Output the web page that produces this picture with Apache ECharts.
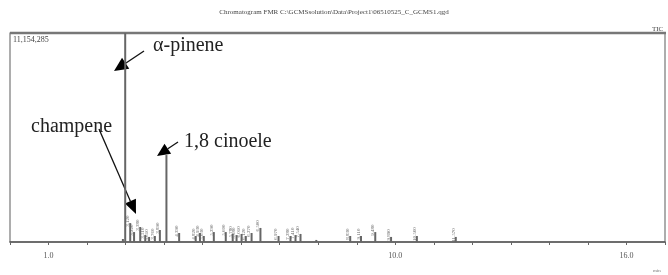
<!DOCTYPE html>
<html>
<head>
<meta charset="utf-8">
<script src="https://cdn.jsdelivr.net/npm/echarts@6/dist/echarts.min.js"></script>
<style>html,body{margin:0;padding:0;background:#fff;}#c{width:668px;height:275px;}</style>
</head>
<body>
<div id="c"></div>
<script>
// Retention times (min) of the peaks
const peakTimes = [2.93, 2.99, 3.12, 3.22, 3.38, 3.51, 3.61, 3.76, 3.89, 4.06, 4.39, 4.82, 4.93, 5.03, 5.29, 5.60, 5.78, 5.88, 6.01, 6.12, 6.27, 6.50, 6.97, 7.28, 7.41, 7.54, 7.95, 8.83, 9.11, 9.48, 9.89, 10.56, 11.57];
// Peak intensities (TIC counts)
const peakHeights = [160000, 11154285, 1010000, 530000, 800000, 370000, 270000, 320000, 640000, 4640000, 480000, 320000, 480000, 320000, 530000, 530000, 430000, 370000, 430000, 320000, 480000, 750000, 320000, 320000, 370000, 430000, 110000, 320000, 320000, 530000, 270000, 320000, 270000];
const xTickLabels = [1.0, 10.0, 16.0];
const yMaxLabel = '11,154,285';
const yMax = 11154285;
const titleText = 'Chromatogram FMR C:\\GCMSsolution\\Data\\Project1\\06510525_C_GCMS1.qgd';
const annotations = ['α-pinene', 'champene', '1,8 cinoele'];

const chart = echarts.init(document.getElementById('c'), null, {renderer: 'canvas'});

const barData = peakTimes.map((t, i) => {
  const h = peakHeights[i];
  const small = h < 2000000 && h > 200000;
  return {
    value: [t, h],
    label: {
      show: small,
      position: 'top',
      rotate: 90,
      distance: 2,
      fontSize: 5,
      color: '#666',
      fontFamily: 'Liberation Serif',
      formatter: () => t.toFixed(3)
    }
  };
});

function arrow(x1, y1, x2, y2, hl, hw) {
  const dx = x2 - x1, dy = y2 - y1;
  const L = Math.sqrt(dx * dx + dy * dy);
  const ux = dx / L, uy = dy / L;
  const bx = x2 - ux * hl, by = y2 - uy * hl;
  const px = -uy * hw / 2, py = ux * hw / 2;
  return [
    {type: 'line', shape: {x1: x1, y1: y1, x2: bx, y2: by}, style: {stroke: '#111', lineWidth: 1.3}},
    {type: 'polygon', shape: {points: [[x2, y2], [bx + px, by + py], [bx - px, by - py]]}, style: {fill: '#000'}}
  ];
}

const serif = 'Liberation Serif';
const graphics = [
  {type: 'text', left: 'center', top: 9, style: {text: titleText, fontSize: 7, fontFamily: serif, fill: '#444'}},
  {type: 'text', x: 652, y: 26, style: {text: 'TIC', fontSize: 7, fontFamily: serif, fill: '#444'}},
  {type: 'text', x: 13, y: 36, style: {text: yMaxLabel, fontSize: 8, fontFamily: serif, fill: '#444'}},
  {type: 'line', shape: {x1: 10, y1: 33, x2: 666, y2: 33}, style: {stroke: '#777', lineWidth: 2.5}},
  {type: 'text', x: 653, y: 268, style: {text: 'min', fontSize: 5, fontFamily: serif, fill: '#777'}},
  {type: 'text', x: 153, y: 36, style: {text: annotations[0], fontSize: 20, fontFamily: serif, fill: '#222'}},
  {type: 'text', x: 31, y: 117, style: {text: annotations[1], fontSize: 20, fontFamily: serif, fill: '#222'}},
  {type: 'text', x: 184, y: 132, style: {text: annotations[2], fontSize: 20, fontFamily: serif, fill: '#222'}}
]
  .concat(arrow(144, 51, 114, 71, 14, 13))
  .concat(arrow(99, 129, 136, 214, 14, 12))
  .concat(arrow(178, 142, 157, 156, 13, 12));

chart.setOption({
  animation: false,
  grid: {left: 10, right: 2, top: 33, bottom: 33, show: true, borderColor: '#777', borderWidth: 1.2},
  xAxis: {
    type: 'value', min: 0, max: 17, interval: 1,
    axisLine: {show: true, lineStyle: {color: '#555', width: 1.5}},
    axisTick: {show: true, length: 3, lineStyle: {color: '#666'}},
    splitLine: {show: false},
    axisLabel: {
      margin: 10, fontSize: 8, fontFamily: serif, color: '#555',
      formatter: v => xTickLabels.indexOf(v) >= 0 ? v.toFixed(1) : ''
    }
  },
  yAxis: {
    type: 'value', min: 0, max: yMax, show: false
  },
  series: [{
    type: 'bar',
    data: barData,
    barWidth: 2,
    itemStyle: {color: '#666'},
    clip: true
  }],
  graphic: graphics
});
</script>
</body>
</html>
